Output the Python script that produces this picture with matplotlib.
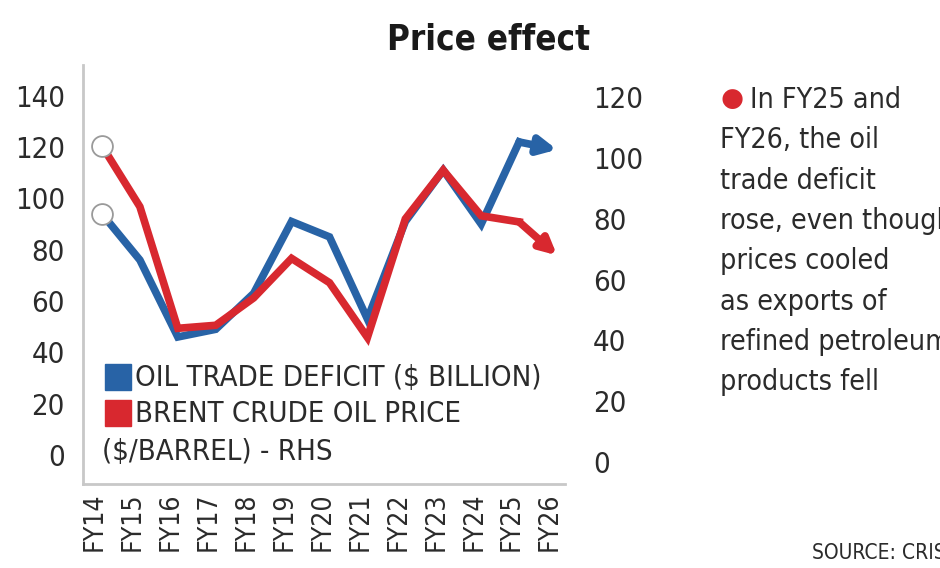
import matplotlib
matplotlib.use('Agg')
import matplotlib.pyplot as plt
import matplotlib.transforms as mtransforms
from matplotlib import font_manager
from matplotlib.patches import Rectangle

# pick a narrow face if one is installed
cond = [f for f in font_manager.fontManager.ttflist
        if f.stretch in ('condensed', 'semi-condensed', 'extra-condensed')
        or 'Narrow' in f.name or 'Condensed' in f.name]
if cond:
    FONT, STRETCH = cond[0].name, cond[0].stretch
else:
    FONT, STRETCH = 'Roboto', 'normal'
plt.rcParams['font.family'] = [FONT, 'DejaVu Sans']
plt.rcParams['font.stretch'] = STRETCH

years = ['FY14', 'FY15', 'FY16', 'FY17', 'FY18', 'FY19', 'FY20',
         'FY21', 'FY22', 'FY23', 'FY24', 'FY25', 'FY26']
deficit = [94, 76, 46, 49, 63, 91, 85, 53, 91, 111, 90, 122, 119]   # $ bn, left
brent = [104, 84, 44, 45, 54, 67, 59, 41, 80, 96, 81, 79, 68]       # $/bbl, right
left_ticks = [0, 20, 40, 60, 80, 100, 120, 140]
right_ticks = [0, 20, 40, 60, 80, 100, 120]

BLUE = '#2863a6'
RED = '#d8282f'
TXT = '#2b2b2b'
x = list(range(len(years)))

fig = plt.figure(figsize=(9.4, 5.68), dpi=100)
ax = fig.add_axes([83/940, 1-484/568, (565-83)/940, (484-65)/568])
ax2 = ax.twinx()

ax.set_xlim(-0.5, 12.21)
ax.set_ylim(-11.3, 152)
ax2.set_ylim(-7.2, 130.6)

# lines up to FY25, then arrows into FY26
ax.plot(x[:-1], deficit[:-1], color=BLUE, lw=5.5, solid_joinstyle='miter', zorder=3)
ax2.plot(x[:-1], brent[:-1], color=RED, lw=5.5, solid_joinstyle='miter', zorder=3)
ax.annotate('', xy=(x[-1], deficit[-1]), xytext=(x[-2], deficit[-2]),
            arrowprops=dict(arrowstyle='-|>', lw=5.5, color=BLUE,
                            mutation_scale=26, shrinkA=0, shrinkB=0))
ax2.annotate('', xy=(x[-1], brent[-1]), xytext=(x[-2], brent[-2]),
             arrowprops=dict(arrowstyle='-|>', lw=5.5, color=RED,
                             mutation_scale=24, shrinkA=0, shrinkB=0))
# open circles at the start
ax.plot(x[0], deficit[0], 'o', ms=15, mfc='white', mec='#9a9a9a', mew=1.3, zorder=5)
ax2.plot(x[0], brent[0], 'o', ms=15, mfc='white', mec='#9a9a9a', mew=1.3, zorder=5)

for a in (ax, ax2):
    for s in ('top', 'right'):
        a.spines[s].set_visible(False)
ax2.spines['left'].set_visible(False)
ax2.spines['bottom'].set_visible(False)
ax.spines['left'].set_color('#c8c8c8')
ax.spines['bottom'].set_color('#c8c8c8')
ax.spines['left'].set_linewidth(2)
ax.spines['bottom'].set_linewidth(2)

ax.set_yticks(left_ticks)
ax.set_yticklabels([str(v) for v in left_ticks], fontsize=21, color=TXT)
ax.tick_params(axis='y', length=0, pad=13)
ax2.set_yticks(right_ticks)
ax2.set_yticklabels([str(v) for v in right_ticks], fontsize=21, color=TXT)
ax2.tick_params(axis='y', length=0, pad=20)

ax.set_xticks(x)
ax.set_xticklabels(years, rotation=90, fontsize=19, color=TXT)
ax.tick_params(axis='x', length=0, pad=6)
shift = mtransforms.ScaledTranslation(-7/100, 0, fig.dpi_scale_trans)
for lab in ax.get_xticklabels():
    lab.set_transform(lab.get_transform() + shift)

# legend drawn by hand (third line wraps under the swatch)
fig.patches.append(Rectangle((105/940, 1-390/568), 26/940, 26/568,
                             transform=fig.transFigure, color=BLUE, zorder=10))
fig.patches.append(Rectangle((105/940, 1-426/568), 26/940, 26/568,
                             transform=fig.transFigure, color=RED, zorder=10))
fig.text(135/940, 1-378/568, 'OIL TRADE DEFICIT ($ BILLION)', fontsize=21,
         color=TXT, va='center', ha='left')
fig.text(135/940, 1-414/568, 'BRENT CRUDE OIL PRICE', fontsize=21,
         color=TXT, va='center', ha='left')
fig.text(102/940, 1-452/568, '($/BARREL) - RHS', fontsize=21,
         color=TXT, va='center', ha='left')

fig.text(489/940, 1-40/568, 'Price effect', fontsize=25, fontweight='bold',
         color='#1a1a1a', ha='center', va='center')

note = ['In FY25 and', 'FY26, the oil', 'trade deficit', 'rose, even though',
        'prices cooled', 'as exports of', 'refined petroleum', 'products fell']
fig.text(721/940, 1-99/568, '\u25CF', fontsize=19, color=RED,
         ha='left', va='center', family='DejaVu Sans', fontstretch='normal')
for i, line in enumerate(note):
    xx = 750 if i == 0 else 720
    fig.text(xx/940, 1-(100 + 40.3*i)/568, line, fontsize=20.5, color=TXT,
             ha='left', va='center')

fig.text(812/940, 1-553/568, 'SOURCE: CRISIL', fontsize=15, color=TXT,
         ha='left', va='center')

fig.savefig('out.png', dpi=100)
